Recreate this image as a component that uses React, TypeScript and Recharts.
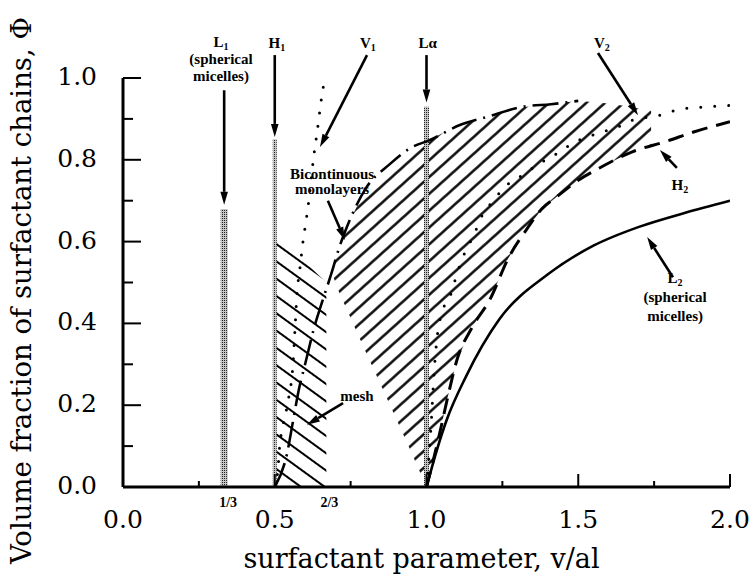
import React from 'react';
import { ComposedChart, Line, Area, XAxis, YAxis, ReferenceLine, ReferenceDot } from 'recharts';

// ---------- axis ticks ----------
const xMajorTicks = [0, 0.5, 1, 1.5, 2];
const xMajorLabels = ['0.0', '0.5', '1.0', '1.5', '2.0'];
const xMinorTicks = [0.25, 0.75, 1.25, 1.75];
const xFracTicks = [1 / 3, 2 / 3];
const xFracLabels = ['1/3', '2/3'];
const yMajorTicks = [0, 0.2, 0.4, 0.6, 0.8, 1.0];
const yMajorLabels = ['0.0', '0.2', '0.4', '0.6', '0.8', '1.0'];
const yMinorTicks = [0.1, 0.3, 0.5, 0.7, 0.9];

// ---------- phase boundaries ----------
const l2Curve = [
  { x: 1.0, y: 0 }, { x: 1.03, y: 0.08 }, { x: 1.067, y: 0.165 }, { x: 1.13, y: 0.27 },
  { x: 1.24, y: 0.41 }, { x: 1.4, y: 0.52 }, { x: 1.55, y: 0.59 }, { x: 1.7, y: 0.636 },
  { x: 1.85, y: 0.67 }, { x: 2.0, y: 0.7 },
];
const h2Curve = [
  { x: 1.0, y: 0 }, { x: 1.04, y: 0.12 }, { x: 1.07, y: 0.22 }, { x: 1.1, y: 0.31 },
  { x: 1.15, y: 0.39 }, { x: 1.21, y: 0.46 }, { x: 1.27, y: 0.56 }, { x: 1.33, y: 0.63 },
  { x: 1.38, y: 0.68 }, { x: 1.43, y: 0.71 }, { x: 1.5, y: 0.75 }, { x: 1.57, y: 0.78 },
  { x: 1.68, y: 0.82 }, { x: 1.79, y: 0.845 }, { x: 1.88, y: 0.868 }, { x: 2.0, y: 0.893 },
];
const v1Curve = [
  { x: 0.5, y: 0 }, { x: 0.54, y: 0.08 }, { x: 0.56, y: 0.16 }, { x: 0.58, y: 0.24 },
  { x: 0.6, y: 0.3 }, { x: 0.63, y: 0.39 }, { x: 0.655, y: 0.45 }, { x: 0.69, y: 0.53 },
  { x: 0.71, y: 0.58 }, { x: 0.74, y: 0.64 }, { x: 0.8, y: 0.73 }, { x: 0.88, y: 0.79 },
  { x: 0.95, y: 0.83 }, { x: 1.01, y: 0.848 }, { x: 1.11, y: 0.885 }, { x: 1.2, y: 0.905 },
  { x: 1.32, y: 0.93 }, { x: 1.41, y: 0.936 }, { x: 1.5, y: 0.944 },
];
const dotted1 = [
  { x: 0.5, y: 0 }, { x: 0.51, y: 0.04 }, { x: 0.517, y: 0.107 }, { x: 0.524, y: 0.14 },
  { x: 0.544, y: 0.21 }, { x: 0.56, y: 0.3 }, { x: 0.567, y: 0.39 }, { x: 0.573, y: 0.47 },
  { x: 0.583, y: 0.535 }, { x: 0.593, y: 0.6 }, { x: 0.605, y: 0.66 }, { x: 0.617, y: 0.73 },
  { x: 0.627, y: 0.8 }, { x: 0.64, y: 0.87 }, { x: 0.652, y: 0.94 }, { x: 0.665, y: 1.0 },
];
const dotted2 = [
  { x: 1.0, y: 0 }, { x: 1.015, y: 0.15 }, { x: 1.025, y: 0.28 }, { x: 1.034, y: 0.36 },
  { x: 1.054, y: 0.433 }, { x: 1.077, y: 0.465 }, { x: 1.104, y: 0.53 }, { x: 1.12, y: 0.562 },
  { x: 1.143, y: 0.597 }, { x: 1.16, y: 0.623 }, { x: 1.176, y: 0.653 }, { x: 1.22, y: 0.7 },
  { x: 1.265, y: 0.738 }, { x: 1.318, y: 0.763 }, { x: 1.364, y: 0.787 }, { x: 1.44, y: 0.82 },
  { x: 1.48, y: 0.84 }, { x: 1.53, y: 0.856 }, { x: 1.578, y: 0.868 }, { x: 1.63, y: 0.88 },
  { x: 1.68, y: 0.897 }, { x: 1.77, y: 0.909 }, { x: 1.825, y: 0.922 }, { x: 1.875, y: 0.927 },
  { x: 1.925, y: 0.929 }, { x: 1.967, y: 0.932 }, { x: 2.0, y: 0.933 },
];

// ---------- hatched regions (low, high) ----------
const bicontRegion = [
  { x: 0.69, r: [0.52, 0.53] }, { x: 0.71, r: [0.48, 0.58] }, { x: 0.74, r: [0.43, 0.64] },
  { x: 0.8, r: [0.33, 0.73] }, { x: 0.88, r: [0.2, 0.79] }, { x: 0.95, r: [0.085, 0.83] },
  { x: 1.0, r: [0, 0.848] }, { x: 1.04, r: [0.12, 0.86] }, { x: 1.07, r: [0.22, 0.872] },
  { x: 1.1, r: [0.31, 0.882] }, { x: 1.15, r: [0.39, 0.895] }, { x: 1.21, r: [0.46, 0.907] },
  { x: 1.27, r: [0.56, 0.92] }, { x: 1.33, r: [0.63, 0.93] }, { x: 1.38, r: [0.68, 0.935] },
  { x: 1.43, r: [0.71, 0.938] }, { x: 1.5, r: [0.75, 0.944] }, { x: 1.57, r: [0.78, 0.94] },
  { x: 1.65, r: [0.81, 0.932] }, { x: 1.74, r: [0.837, 0.92] },
];
const meshRegion = [
  { x: 0.5, r: [0, 0.62] }, { x: 0.67, r: [0, 0.5] },
];

// ---------- stippled phase lines ----------
const l1Bar = [{ x: 1 / 3, y: 0 }, { x: 1 / 3, y: 0.68 }];
const h1Bar = [{ x: 0.5, y: 0 }, { x: 0.5, y: 0.85 }];
const laBar = [{ x: 1.0, y: 0 }, { x: 1.0, y: 0.93 }];

// ---------- annotations ----------
const arrows = [
  { from: { x: 1 / 3, y: 0.97 }, to: { x: 1 / 3, y: 0.69 } },
  { from: { x: 0.5, y: 1.056 }, to: { x: 0.5, y: 0.856 } },
  { from: { x: 0.804, y: 1.056 }, to: { x: 0.649, y: 0.831 } },
  { from: { x: 1.0, y: 1.056 }, to: { x: 1.0, y: 0.94 } },
  { from: { x: 1.565, y: 1.061 }, to: { x: 1.697, y: 0.909 } },
  { from: { x: 1.825, y: 0.78 }, to: { x: 1.769, y: 0.824 } },
  { from: { x: 1.812, y: 0.513 }, to: { x: 1.727, y: 0.611 } },
  { from: { x: 0.675, y: 0.7 }, to: { x: 0.731, y: 0.604 } },
  { from: { x: 0.725, y: 0.205 }, to: { x: 0.606, y: 0.152 } },
];
const annLabels = [
  { x: 0.323, y: 1.076, main: 'L', sub: '1', extra: ['(spherical', 'micelles)'], lh: 17, bg: true },
  { x: 0.507, y: 1.073, main: 'H', sub: '1' },
  { x: 0.807, y: 1.073, main: 'V', sub: '1' },
  { x: 1.004, y: 1.073, main: 'L\u03b1' },
  { x: 1.578, y: 1.073, main: 'V', sub: '2' },
  { x: 1.835, y: 0.726, main: 'H', sub: '2' },
  { x: 1.819, y: 0.499, main: 'L', sub: '2', extra: ['(spherical', 'micelles)'], lh: 19 },
  { x: 0.689, y: 0.752, main: 'Bicontinuous', extra: ['monolayers'], lh: 15 },
  { x: 0.771, y: 0.21, main: 'mesh' },
];

const allXTicks = [...xMajorTicks, ...xMinorTicks, ...xFracTicks].sort((a, b) => a - b);
const allYTicks = [...yMajorTicks, ...yMinorTicks].sort((a, b) => a - b);

const SERIF = "'DejaVu Serif', serif";
const SMALL = "'Liberation Serif', serif";

function BottomTick(props: any) {
  const { x, y, payload } = props;
  const v = payload.value;
  const mi = xMajorTicks.indexOf(v);
  if (mi >= 0) {
    return (
      <g>
        <line x1={x} y1={y} x2={x} y2={y - 13} stroke="#000" strokeWidth={2} />
        <text x={x} y={y + 41} textAnchor="middle" fontFamily={SERIF} fontSize={25} fill="#000">
          {xMajorLabels[mi]}
        </text>
      </g>
    );
  }
  const fi = xFracTicks.indexOf(v);
  if (fi >= 0) {
    return (
      <text x={x + 4} y={y + 20} textAnchor="middle" fontFamily={SMALL} fontWeight="bold" fontSize={14} fill="#000">
        {xFracLabels[fi]}
      </text>
    );
  }
  return <line x1={x} y1={y} x2={x} y2={y - 6} stroke="#000" strokeWidth={2} />;
}

function TopTick(props: any) {
  const { x, y, payload } = props;
  const v = payload.value;
  if (xFracTicks.indexOf(v) >= 0) return <g />;
  const len = xMajorTicks.indexOf(v) >= 0 ? 15 : 8;
  return <line x1={x} y1={y} x2={x} y2={y + len} stroke="#000" strokeWidth={2} />;
}

function LeftTick(props: any) {
  const { x, y, payload } = props;
  const v = payload.value;
  const mi = yMajorTicks.indexOf(v);
  if (mi >= 0) {
    return (
      <g>
        <line x1={x} y1={y} x2={x + 18} y2={y} stroke="#000" strokeWidth={2} />
        <text x={x - 26} y={y + 7} textAnchor="end" fontFamily={SERIF} fontSize={25} fill="#000">
          {yMajorLabels[mi]}
        </text>
      </g>
    );
  }
  return <line x1={x} y1={y} x2={x + 10} y2={y} stroke="#000" strokeWidth={2} />;
}

function RightTick(props: any) {
  const { x, y, payload } = props;
  const len = yMajorTicks.indexOf(payload.value) >= 0 ? 15 : 8;
  return <line x1={x} y1={y} x2={x - len} y2={y} stroke="#000" strokeWidth={2} />;
}

function ArrowShape(p: any) {
  const { x1, y1, x2, y2 } = p;
  const ang = Math.atan2(y2 - y1, x2 - x1);
  const L = 13;
  const Wd = 3.8;
  const bx = x2 - L * Math.cos(ang);
  const by = y2 - L * Math.sin(ang);
  const nx = -Math.sin(ang);
  const ny = Math.cos(ang);
  return (
    <g>
      <line x1={x1} y1={y1} x2={bx} y2={by} stroke="#000" strokeWidth={2.6} />
      <polygon
        points={`${x2},${y2} ${bx + nx * Wd},${by + ny * Wd} ${bx - nx * Wd},${by - ny * Wd}`}
        fill="#000"
      />
    </g>
  );
}

function makeLabelShape(spec: any) {
  return (p: any) => {
    const { cx, cy } = p;
    const lh = spec.lh || 16;
    const extra: string[] = spec.extra || [];
    return (
      <g>
        {spec.bg ? (
          <rect x={cx - 36} y={cy + lh * extra.length - 13} width={74} height={17} fill="#fff" />
        ) : null}
        <text x={cx} y={cy} textAnchor="middle" fontFamily={SMALL} fontWeight="bold" fontSize={15} fill="#000">
          <tspan>{spec.main}</tspan>
          {spec.sub ? (
            <tspan fontSize={10} dy={3}>
              {spec.sub}
            </tspan>
          ) : null}
        </text>
        {extra.map((t: string, i: number) => (
          <text
            key={i}
            x={cx}
            y={cy + lh * (i + 1)}
            textAnchor="middle"
            fontFamily={SMALL}
            fontWeight="bold"
            fontSize={15}
            fill="#000"
          >
            {t}
          </text>
        ))}
      </g>
    );
  };
}

function XTitle(props: any) {
  const vb = props.viewBox || { x: 123, y: 487, width: 607, height: 92 };
  return (
    <text x={vb.x + vb.width / 2 - 5} y={vb.y + 81} textAnchor="middle" fontFamily={SERIF} fontSize={27} fill="#000">
      surfactant parameter, v/al
    </text>
  );
}

function YTitle(props: any) {
  const vb = props.viewBox || { x: 0, y: 78, width: 123, height: 409 };
  const cx = vb.x + 31;
  const cy = vb.y + vb.height / 2 + 8;
  return (
    <text
      x={cx}
      y={cy}
      transform={`rotate(-90 ${cx} ${cy})`}
      textAnchor="middle"
      fontFamily={SERIF}
      fontSize={27.5}
      fill="#000"
    >
      Volume fraction of surfactant chains, Φ
    </text>
  );
}

export default function App() {
  return (
    <div style={{ position: 'absolute', left: 0, top: 0, background: '#fff' }}>
      <ComposedChart width={754} height={579} margin={{ top: 78, right: 24, bottom: 0, left: 0 }}>
        <defs>
          <pattern id="hatchR" patternUnits="userSpaceOnUse" width="40" height="12.5" patternTransform="rotate(-42)">
            <line x1="0" y1="6.25" x2="40" y2="6.25" stroke="#000" strokeWidth="2.2" />
          </pattern>
          <pattern id="hatchM" patternUnits="userSpaceOnUse" width="40" height="14" patternTransform="rotate(36)">
            <line x1="0" y1="7" x2="40" y2="7" stroke="#000" strokeWidth="2.2" />
          </pattern>
          <pattern id="stip" patternUnits="userSpaceOnUse" width="2" height="2">
            <rect width="2" height="2" fill="#c4c4c4" />
            <rect x="0" y="0" width="1" height="1" fill="#222" />
          </pattern>
        </defs>
        <XAxis
          xAxisId={0}
          dataKey="x"
          type="number"
          domain={[0, 2]}
          ticks={allXTicks}
          interval={0}
          tickSize={0}
          tickMargin={0}
          tickLine={false}
          tick={<BottomTick />}
          axisLine={{ stroke: '#000', strokeWidth: 3 }}
          height={92}
          allowDataOverflow
          label={(p: any) => <XTitle {...p} />}
        />
        <XAxis
          xAxisId="top"
          orientation="top"
          dataKey="x"
          type="number"
          domain={[0, 2]}
          ticks={allXTicks}
          interval={0}
          tickSize={0}
          tickMargin={0}
          tickLine={false}
          tick={<TopTick />}
          axisLine={{ stroke: '#000', strokeWidth: 3 }}
          height={0}
          allowDataOverflow
        />
        <YAxis
          yAxisId={0}
          type="number"
          domain={[0, 1]}
          ticks={allYTicks}
          interval={0}
          tickSize={0}
          tickMargin={0}
          tickLine={false}
          tick={<LeftTick />}
          axisLine={{ stroke: '#000', strokeWidth: 3 }}
          width={123}
          allowDataOverflow
          label={(p: any) => <YTitle {...p} />}
        />
        <YAxis
          yAxisId="right"
          orientation="right"
          type="number"
          domain={[0, 1]}
          ticks={allYTicks}
          interval={0}
          tickSize={0}
          tickMargin={0}
          tickLine={false}
          tick={<RightTick />}
          axisLine={{ stroke: '#000', strokeWidth: 3 }}
          width={0}
          allowDataOverflow
        />

        <Area data={meshRegion} dataKey="r" type="linear" stroke="none" fill="url(#hatchM)" fillOpacity={1} isAnimationActive={false} activeDot={false} />
        <Area data={bicontRegion} dataKey="r" type="linear" stroke="none" fill="url(#hatchR)" fillOpacity={1} isAnimationActive={false} activeDot={false} />

        <Line data={l1Bar} dataKey="y" type="linear" stroke="url(#stip)" strokeWidth={7} dot={false} activeDot={false} isAnimationActive={false} />
        <Line data={h1Bar} dataKey="y" type="linear" stroke="url(#stip)" strokeWidth={4} dot={false} activeDot={false} isAnimationActive={false} />
        <Line data={laBar} dataKey="y" type="linear" stroke="url(#stip)" strokeWidth={5} dot={false} activeDot={false} isAnimationActive={false} />

        <Line data={l2Curve} dataKey="y" type="monotone" stroke="#000" strokeWidth={2.6} dot={false} activeDot={false} isAnimationActive={false} />
        <Line data={h2Curve} dataKey="y" type="monotone" stroke="#000" strokeWidth={3} strokeDasharray="16 9" dot={false} activeDot={false} isAnimationActive={false} />
        <Line data={v1Curve} dataKey="y" type="monotone" stroke="#000" strokeWidth={2.6} strokeDasharray="26 7 2 7" dot={false} activeDot={false} isAnimationActive={false} />
        <Line data={dotted1} dataKey="y" type="monotone" stroke="#000" strokeWidth={3} strokeDasharray="0 13" strokeLinecap="round" dot={false} activeDot={false} isAnimationActive={false} />
        <Line data={dotted2} dataKey="y" type="monotone" stroke="#000" strokeWidth={3} strokeDasharray="0 14" strokeLinecap="round" dot={false} activeDot={false} isAnimationActive={false} />

        {arrows.map((a, i) => (
          <ReferenceLine key={'a' + i} segment={[a.from, a.to]} ifOverflow="visible" shape={ArrowShape} zIndex={2000} />
        ))}
        {annLabels.map((s, i) => (
          <ReferenceDot key={'l' + i} x={s.x} y={s.y} r={0} ifOverflow="visible" shape={makeLabelShape(s)} zIndex={2100} />
        ))}
      </ComposedChart>
    </div>
  );
}
